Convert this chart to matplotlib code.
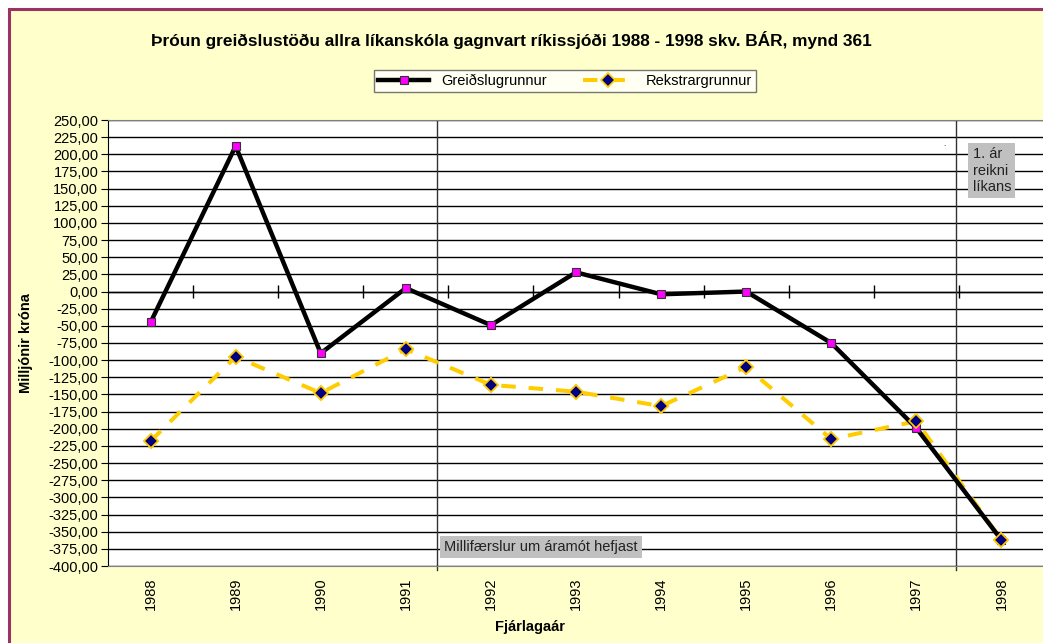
import matplotlib
matplotlib.use("Agg")
import matplotlib.pyplot as plt
from matplotlib.patches import Rectangle
from matplotlib.ticker import FuncFormatter, MultipleLocator

plt.rcParams['font.family'] = ['Liberation Sans', 'DejaVu Sans']

years = ['1988', '1989', '1990', '1991', '1992', '1993',
         '1994', '1995', '1996', '1997', '1998']
greidslugrunnur = [-45, 212, -90, 5, -49, 28, -4, 0, -75, -199, -362]
rekstrargrunnur = [-218, -95, -148, -84, -136, -146, -167, -110, -215, -189, -362]

fig = plt.figure(figsize=(10.43, 6.43), dpi=100)
fig.patch.set_facecolor('white')

# yellow chart area with maroon frame (cut off at right/bottom like the source)
fig.patches.append(Rectangle((9 / 1043, -0.1), 1.2, 1 - 9 / 643 + 0.1,
                             transform=fig.transFigure, facecolor='#FFFFCC',
                             edgecolor='#993366', lw=2.2, zorder=-5))

ax = fig.add_axes([108 / 1043, 1 - 566 / 643, 936 / 1043, 446 / 643])
ax.set_facecolor('white')

x = list(range(len(years)))

# horizontal gridlines
ax.yaxis.set_major_locator(MultipleLocator(25))
ax.grid(axis='y', color='black', lw=1)
ax.set_axisbelow(True)

ax.plot(x, rekstrargrunnur, color='#FFCC00', lw=2.9, dashes=(3.6, 3.2),
        marker='D', ms=7, markerfacecolor='#000080', markeredgecolor='#FFCC00',
        mew=1.2, label='Rekstrargrunnur', zorder=3)
ax.plot(x, greidslugrunnur, color='black', lw=3.2, marker='s', ms=5.5,
        markerfacecolor='#FF00FF', markeredgecolor='#333333', mew=0.8,
        label='Greiðslugrunnur', zorder=4)
# diamonds sit on top of everything, as in the source
ax.plot(x, rekstrargrunnur, ls='none', marker='D', ms=7,
        markerfacecolor='#000080', markeredgecolor='#FFCC00', mew=1.2, zorder=6)

# category axis crossing at zero with ticks between categories
ax.axhline(0, color='black', lw=1, zorder=2)
ax.vlines([i + 0.5 for i in x[:-1]], -10, 10, color='black', lw=1, zorder=2)

ax.set_xlim(-0.5, len(years) - 0.5)
ax.set_ylim(-400, 250)
ax.set_xticks(x)
ax.set_xticklabels(years, rotation=90, fontsize=10.5)
ax.tick_params(axis='x', length=0, pad=8)
ax.tick_params(axis='y', length=5, direction='out', labelsize=10.5, pad=2)
ax.yaxis.set_major_formatter(FuncFormatter(lambda v, p: f"{v:.2f}".replace('.', ',')))

for s in ['top', 'right', 'bottom']:
    ax.spines[s].set_color('#808080')
ax.spines['left'].set_color('black')

# drawn vertical markers
ax.axvline(3.37, color='#333333', lw=1, zorder=2)
ax.plot([3.37, 3.37], [-400, -406], color='#333333', lw=1, clip_on=False)
ax.axvline(9.47, color='#333333', lw=1, zorder=2)
ax.plot([9.47, 9.47], [-400, -406], color='#333333', lw=1, clip_on=False)

ax.text(9.66, 211, '1. ár\nreikni\nlíkans', ha='left', va='top', fontsize=10.5,
        linespacing=1.25, color='#222222', zorder=7,
        bbox=dict(facecolor='#C0C0C0', edgecolor='none', pad=3))
ax.text(3.45, -372, 'Millifærslur um áramót hefjast', ha='left', va='center',
        fontsize=10.5, color='#222222', zorder=7,
        bbox=dict(facecolor='#C0C0C0', edgecolor='none', pad=3))
ax.text(9.33, 215, '.', fontsize=6, ha='center', va='center')

ax.set_ylabel('Milljónir króna', fontsize=10.5, fontweight='bold')
ax.yaxis.set_label_coords((33 - 108) / 936, 0.5)
ax.set_xlabel('Fjárlagaár', fontsize=10.5, fontweight='bold')
ax.xaxis.set_label_coords((530 - 108) / 936, (566 - 620) / 446)

fig.text(511 / 1043, 1 - 40 / 643,
         'Þróun greiðslustöðu allra líkanskóla gagnvart ríkissjóði 1988 - 1998 skv. BÁR, mynd 361',
         ha='center', va='center', fontsize=12.4, fontweight='bold')

handles, labels = ax.get_legend_handles_labels()
leg = ax.legend(handles[::-1], labels[::-1], loc='center',
                bbox_to_anchor=(565 / 1043, 1 - 81 / 643),
                bbox_transform=fig.transFigure, ncol=2, fontsize=10.5,
                frameon=True, fancybox=False, edgecolor='#555555',
                handlelength=3.5, columnspacing=2.5, borderpad=0.3)
leg.get_frame().set_linewidth(1)

fig.savefig('out.png', dpi=100, facecolor=fig.get_facecolor())
